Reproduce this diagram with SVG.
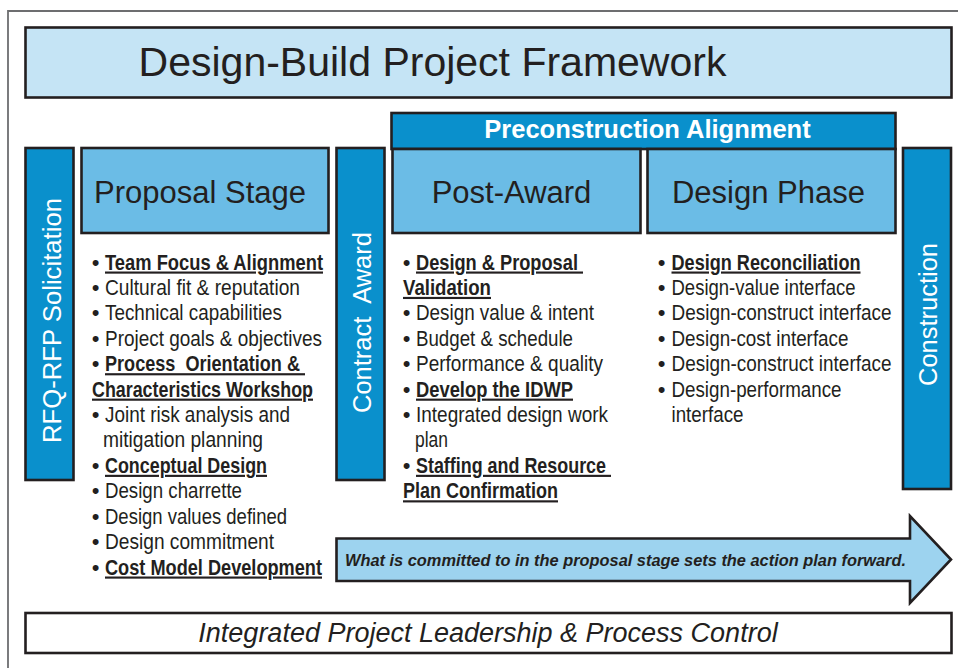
<svg xmlns="http://www.w3.org/2000/svg" width="958" height="668" viewBox="0 0 958 668">
<style>
.box{stroke:#231f20;stroke-width:2.6}
.dark{fill:#0a90cc}
.mid{fill:#6bbce6}
.t{font-family:"Liberation Sans",Arial,sans-serif;fill:#231f20}
.w{font-family:"Liberation Sans",Arial,sans-serif;fill:#ffffff}
.b{font-family:"Liberation Sans",Arial,sans-serif;fill:#231f20;font-size:21.5px}
.bb{font-weight:bold;text-decoration:underline}
.dot{font-family:"Liberation Sans",Arial,sans-serif;fill:#231f20;font-size:22px;text-anchor:middle}
.pre{white-space:pre}
</style>
<rect width="958" height="668" fill="#ffffff"/>
<path d="M8,668 V11 H958" fill="none" stroke="#6d6e70" stroke-width="1.8"/>

<g id="title">
<rect class="box" x="25.5" y="27.5" width="926" height="70" fill="#c5e4f5"/>
<text class="t" x="432.5" y="76" font-size="41" text-anchor="middle">Design-Build Project Framework</text>
</g>

<g id="rfq">
<rect class="box dark" x="25.5" y="148" width="48" height="332"/>
<text class="w" transform="translate(60.5,320.5) rotate(-90)" font-size="26" text-anchor="middle" textLength="245" lengthAdjust="spacingAndGlyphs">RFQ-RFP Solicitation</text>
</g>

<g id="proposal-stage">
<rect class="box mid" x="81.5" y="148" width="247" height="85"/>
<text class="t" x="200" y="203" font-size="31" text-anchor="middle">Proposal Stage</text>
<g>
<text class="dot" x="95.5" y="269.5">•</text>
<text class="b bb" x="105" y="269.5" textLength="218" lengthAdjust="spacingAndGlyphs">Team Focus &amp; Alignment</text>
<text class="dot" x="95.5" y="294.9">•</text>
<text class="b" x="105" y="294.9" textLength="195" lengthAdjust="spacingAndGlyphs">Cultural fit &amp; reputation</text>
<text class="dot" x="95.5" y="320.3">•</text>
<text class="b" x="105" y="320.3" textLength="177" lengthAdjust="spacingAndGlyphs">Technical capabilities</text>
<text class="dot" x="95.5" y="345.8">•</text>
<text class="b" x="105" y="345.8" textLength="217" lengthAdjust="spacingAndGlyphs">Project goals &amp; objectives</text>
<text class="dot" x="95.5" y="371.2">•</text>
<text class="b bb pre" x="105" y="371.2" textLength="200" lengthAdjust="spacingAndGlyphs" xml:space="preserve">Process  Orientation &amp; </text>
<text class="b bb" x="92" y="396.6" textLength="221" lengthAdjust="spacingAndGlyphs">Characteristics Workshop</text>
<text class="dot" x="95.5" y="422">•</text>
<text class="b" x="105" y="422" textLength="185" lengthAdjust="spacingAndGlyphs">Joint risk analysis and</text>
<text class="b" x="103" y="447.4" textLength="160" lengthAdjust="spacingAndGlyphs">mitigation planning</text>
<text class="dot" x="95.5" y="472.8">•</text>
<text class="b bb" x="105" y="472.8" textLength="162" lengthAdjust="spacingAndGlyphs">Conceptual Design</text>
<text class="dot" x="95.5" y="498.3">•</text>
<text class="b" x="105" y="498.3" textLength="137" lengthAdjust="spacingAndGlyphs">Design charrette</text>
<text class="dot" x="95.5" y="523.7">•</text>
<text class="b" x="105" y="523.7" textLength="182" lengthAdjust="spacingAndGlyphs">Design values defined</text>
<text class="dot" x="95.5" y="549.1">•</text>
<text class="b" x="105" y="549.1" textLength="169" lengthAdjust="spacingAndGlyphs">Design commitment</text>
<text class="dot" x="95.5" y="574.5">•</text>
<text class="b bb" x="105" y="574.5" textLength="217" lengthAdjust="spacingAndGlyphs">Cost Model Development</text>
</g>
</g>

<g id="contract-award">
<rect class="box dark" x="336.5" y="148" width="48" height="332"/>
<text class="w pre" transform="translate(370.5,322.5) rotate(-90)" font-size="26" text-anchor="middle" textLength="181" lengthAdjust="spacingAndGlyphs" xml:space="preserve">Contract  Award</text>
</g>

<g id="preconstruction-alignment">
<rect class="box dark" x="391.5" y="113" width="504" height="36"/>
<text class="w" x="647.5" y="137.5" font-size="25.5" font-weight="bold" text-anchor="middle">Preconstruction Alignment</text>
</g>

<g id="post-award">
<rect class="box mid" x="392.5" y="149" width="248" height="84"/>
<text class="t" x="511.5" y="203" font-size="31" text-anchor="middle">Post-Award</text>
<g>
<text class="dot" x="406.5" y="269.5">•</text>
<text class="b bb pre" x="416" y="269.5" textLength="167" lengthAdjust="spacingAndGlyphs" xml:space="preserve">Design &amp; Proposal </text>
<text class="b bb" x="403" y="294.9" textLength="88" lengthAdjust="spacingAndGlyphs">Validation</text>
<text class="dot" x="406.5" y="320.3">•</text>
<text class="b" x="416" y="320.3" textLength="178" lengthAdjust="spacingAndGlyphs">Design value &amp; intent</text>
<text class="dot" x="406.5" y="345.8">•</text>
<text class="b" x="416" y="345.8" textLength="157" lengthAdjust="spacingAndGlyphs">Budget &amp; schedule</text>
<text class="dot" x="406.5" y="371.2">•</text>
<text class="b" x="416" y="371.2" textLength="187" lengthAdjust="spacingAndGlyphs">Performance &amp; quality</text>
<text class="dot" x="406.5" y="396.6">•</text>
<text class="b bb" x="416" y="396.6" textLength="157" lengthAdjust="spacingAndGlyphs">Develop the IDWP</text>
<text class="dot" x="406.5" y="422">•</text>
<text class="b" x="416" y="422" textLength="192" lengthAdjust="spacingAndGlyphs">Integrated design work</text>
<text class="b" x="415" y="447.4" textLength="33" lengthAdjust="spacingAndGlyphs">plan</text>
<text class="dot" x="406.5" y="472.8">•</text>
<text class="b bb pre" x="416" y="472.8" textLength="195" lengthAdjust="spacingAndGlyphs" xml:space="preserve">Staffing and Resource </text>
<text class="b bb" x="403" y="498.3" textLength="155" lengthAdjust="spacingAndGlyphs">Plan Confirmation</text>
</g>
</g>

<g id="design-phase">
<rect class="box mid" x="647.5" y="149" width="248" height="84"/>
<text class="t" x="768.5" y="203" font-size="31" text-anchor="middle">Design Phase</text>
<g>
<text class="dot" x="661.5" y="269.5">•</text>
<text class="b bb" x="671.5" y="269.5" textLength="189" lengthAdjust="spacingAndGlyphs">Design Reconciliation</text>
<text class="dot" x="661.5" y="294.9">•</text>
<text class="b" x="671.5" y="294.9" textLength="184" lengthAdjust="spacingAndGlyphs">Design-value interface</text>
<text class="dot" x="661.5" y="320.3">•</text>
<text class="b" x="671.5" y="320.3" textLength="220" lengthAdjust="spacingAndGlyphs">Design-construct interface</text>
<text class="dot" x="661.5" y="345.8">•</text>
<text class="b" x="671.5" y="345.8" textLength="177" lengthAdjust="spacingAndGlyphs">Design-cost interface</text>
<text class="dot" x="661.5" y="371.2">•</text>
<text class="b" x="671.5" y="371.2" textLength="220" lengthAdjust="spacingAndGlyphs">Design-construct interface</text>
<text class="dot" x="661.5" y="396.6">•</text>
<text class="b" x="671.5" y="396.6" textLength="170" lengthAdjust="spacingAndGlyphs">Design-performance</text>
<text class="b" x="671.5" y="422" textLength="72" lengthAdjust="spacingAndGlyphs">interface</text>
</g>
</g>

<g id="construction">
<rect class="box dark" x="903" y="148" width="48" height="341"/>
<text class="w" transform="translate(936.5,314.5) rotate(-90)" font-size="26" text-anchor="middle" textLength="143" lengthAdjust="spacingAndGlyphs">Construction</text>
</g>

<g id="connectors">
<path class="box" d="M336.5,538.5 H910 V516 L951,559.5 L910,603 V581 H336.5 Z" fill="#9dd3ef" stroke-linejoin="miter"/>
<text class="t" x="345" y="566" font-size="17" font-weight="bold" font-style="italic" textLength="561" lengthAdjust="spacingAndGlyphs">What is committed to in the proposal stage sets the action plan forward.</text>
</g>

<g id="leadership">
<rect class="box" x="25.5" y="613" width="926" height="40" fill="#ffffff"/>
<text class="t" x="488" y="641.5" font-size="27" font-style="italic" text-anchor="middle">Integrated Project Leadership &amp; Process Control</text>
</g>
</svg>
